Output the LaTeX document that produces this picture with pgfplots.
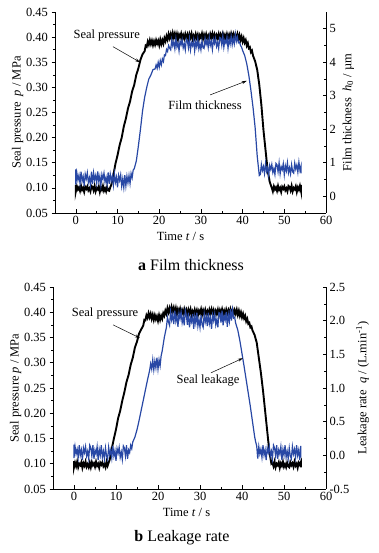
\documentclass[border=0pt]{standalone}
\usepackage{pgfplots}
\pgfplotsset{compat=1.18}
\usepackage{fontspec}
\setmainfont{Liberation Serif}
\usetikzlibrary{arrows.meta}
\definecolor{bl}{RGB}{40,72,165}

\pgfplotsset{
  base/.style={
    scale only axis, anchor=south west,
    xmin=-5, xmax=60, xtick={0,10,20,30,40,50,60}, minor x tick num=1,
    tick align=inside, tick style={black, line width=0.5pt},
    major tick length=3.5pt, minor tick length=2pt,
    axis line style={line width=0.6pt},
    x axis line style={-}, y axis line style={-},
    tick label style={font=\fontsize{12.5}{14}\selectfont},
    label style={font=\fontsize{12.5}{14}\selectfont},
    /pgf/number format/assume math mode=true,
  },
}

\begin{document}
\begin{tikzpicture}
\path[use as bounding box] (0,0) rectangle (379pt,553pt);

% ================= TOP =================
\begin{axis}[base, at={(55pt,340pt)}, width=271pt, height=201pt,
  ymin=0.05, ymax=0.45, ytick={0.05,0.10,0.15,0.20,0.25,0.30,0.35,0.40,0.45},
  minor y tick num=1, axis y line*=left, axis x line*=bottom, ytick align=outside,
  yticklabel style={/pgf/number format/.cd, fixed, fixed zerofill, precision=2},
  xlabel={Time \textit{t} / s}, xlabel style={xshift=-10pt},
  ylabel={Seal pressure~~\textit{p}~/~MPa}, ylabel style={yshift=-4pt}]
\addplot[black, line width=1.9pt] coordinates {
(0,0.106)(0,0.093)(0.25,0.103)(0.5,0.097)(0.75,0.101)(1,0.094)(1.25,0.104)(1.5,0.096)(1.75,0.100)
(2,0.092)(2.25,0.102)(2.5,0.098)(2.75,0.103)(3,0.095)(3.25,0.099)(3.5,0.093)(3.75,0.104)
(4,0.102)(4.25,0.095)(4.5,0.104)(4.75,0.093)(5,0.100)(5.25,0.097)(5.5,0.103)(5.75,0.092)
(6,0.101)(6.25,0.096)(6.5,0.104)(6.75,0.094)(7,0.099)(7.25,0.093)(7.5,0.102)(7.75,0.095)
(8,0.094)(8.25,0.101)(8.5,0.106)(9,0.125)(9.5,0.148)
(10,0.165)(10.5,0.185)(11,0.200)(11.5,0.222)(12,0.238)(12.5,0.258)(13,0.272)(13.5,0.292)(14,0.305)(14.5,0.325)
(15,0.338)(15.5,0.355)(16,0.366)
(16.5,0.372)(16.75,0.383)(17,0.381)(17.25,0.391)(17.5,0.385)(17.75,0.394)(18,0.386)(18.25,0.393)
(18.5,0.384)(18.75,0.392)(19,0.385)(19.25,0.394)(19.5,0.387)(19.75,0.393)(20,0.384)(20.25,0.395)
(20.5,0.386)(20.75,0.394)(21,0.387)(21.25,0.398)(21.5,0.392)(21.75,0.402)(22,0.395)(22.25,0.406)
(22.5,0.398)(22.75,0.406)(23,0.396)(23.25,0.408)(23.5,0.399)(23.75,0.407)(24,0.397)(24.25,0.406)
(24.5,0.395)(24.75,0.405)(25,0.400)(25.25,0.407)(25.5,0.396)(25.75,0.404)(26,0.397)(26.25,0.406)
(26.5,0.398)(26.75,0.405)(27,0.395)(27.25,0.406)(27.5,0.399)(27.75,0.407)(28,0.396)(28.25,0.403)
(28.5,0.397)(28.75,0.406)(29,0.398)(29.25,0.405)(29.5,0.395)(29.75,0.404)(30,0.399)(30.25,0.407)
(30.5,0.396)(30.75,0.405)(31,0.398)(31.25,0.406)(31.5,0.397)(31.75,0.403)(32,0.395)(32.25,0.406)
(32.5,0.399)(32.75,0.407)(33,0.397)(33.25,0.405)(33.5,0.396)(33.75,0.404)(34,0.398)(34.25,0.406)
(34.5,0.395)(34.75,0.405)(35,0.399)(35.25,0.407)(35.5,0.397)(35.75,0.404)(36,0.396)(36.25,0.406)
(36.5,0.398)(36.75,0.405)(37,0.397)(37.25,0.407)(37.5,0.399)(37.75,0.406)(38,0.396)(38.25,0.405)
(38.5,0.398)(38.75,0.406)(39,0.396)(39.25,0.404)(39.5,0.394)(39.75,0.401)(40,0.391)(40.25,0.398)
(40.5,0.389)(40.75,0.394)(41,0.383)(41.25,0.388)(41.5,0.378)(41.75,0.380)(42,0.370)(42.25,0.373)
(42.5,0.363)(43,0.352)(43.5,0.335)(44,0.305)(44.5,0.265)(45,0.215)(45.5,0.175)(46,0.135)(46.5,0.112)(47,0.100)
(47.25,0.093)(47.5,0.103)(47.75,0.097)(48,0.101)(48.25,0.094)(48.5,0.104)(48.75,0.096)(49,0.100)
(49.25,0.092)(49.5,0.102)(49.75,0.098)(50,0.103)(50.25,0.095)(50.5,0.099)(50.75,0.093)(51,0.104)
(51.25,0.102)(51.5,0.095)(51.75,0.104)(52,0.093)(52.25,0.100)(52.5,0.097)(52.75,0.103)(53,0.092)
(53.25,0.101)(53.5,0.096)(53.75,0.104)(54,0.094)(54,0.106)
};
\coordinate (ta1) at (axis cs:8.9,0.381);
\coordinate (ta2) at (axis cs:15.4,0.350);
\coordinate (tb1) at (axis cs:32.2,0.285);
\coordinate (tb2) at (axis cs:41.0,0.313);
\node[font=\fontsize{12.5}{14}\selectfont] at (axis cs:7.4,0.404) {Seal pressure};
\node[font=\fontsize{12.5}{14}\selectfont] at (axis cs:31,0.265) {Film thickness};
\end{axis}

\begin{axis}[base, at={(55pt,340pt)}, width=271pt, height=201pt,
  ymin=-0.5, ymax=5.5, ytick={0,1,2,3,4,5}, minor y tick num=1,
  axis y line*=right, axis x line=none,
  ylabel={Film thickness~~\textit{h}\textsubscript{0}~/~µm}]
\addplot[bl, line width=1.2pt] coordinates {
(0,0.80)(0,0.35)(0.25,0.69)(0.5,0.48)(0.75,0.63)(1,0.38)(1.25,0.73)(1.5,0.45)(1.75,0.59)
(2,0.31)(2.25,0.66)(2.5,0.52)(2.75,0.70)(3,0.41)(3.25,0.55)(3.5,0.34)(3.75,0.73)
(4,0.36)(4.25,0.70)(4.5,0.49)(4.75,0.62)(5,0.39)(5.25,0.74)(5.5,0.44)(5.75,0.60)
(6,0.32)(6.25,0.65)(6.5,0.51)(6.75,0.69)(7,0.42)(7.25,0.56)(7.5,0.35)(7.75,0.71)
(8,0.37)(8.25,0.66)(8.5,0.46)(8.75,0.60)(9,0.33)(9.25,0.68)(9.5,0.42)(9.75,0.57)
(10,0.27)(10.25,0.62)(10.5,0.47)(10.75,0.64)(11,0.30)(11.25,0.52)(11.5,0.26)(11.75,0.63)
(12,0.31)(12.25,0.60)(12.5,0.40)(12.75,0.62)(13,0.38)(13.25,0.68)(13.5,0.55)(13.75,0.78)
(14,0.82)(14.5,1.05)(15,1.50)(15.5,2.00)(16,2.55)(16.5,2.95)(17,3.25)(17.5,3.50)(18,3.62)(18.5,3.78)
(19,3.80)(19.25,3.92)(19.5,3.82)(19.75,4.00)(20,3.85)(20.25,4.05)(20.5,3.92)(20.75,4.10)
(21,4.02)(21.25,4.22)(21.5,4.20)(21.75,4.38)(22,4.32)(22.25,4.50)(22.5,4.42)
(22.75,4.37)(23,4.67)(23.25,4.49)(23.5,4.61)(23.75,4.40)(24,4.70)(24.25,4.46)(24.5,4.58)
(24.75,4.34)(25,4.64)(25.25,4.52)(25.5,4.67)(25.75,4.43)(26,4.55)(26.25,4.37)(26.5,4.70)
(26.75,4.64)(27,4.43)(27.25,4.70)(27.5,4.37)(27.75,4.58)(28,4.49)(28.25,4.67)(28.5,4.34)
(28.75,4.61)(29,4.46)(29.25,4.70)(29.5,4.40)(29.75,4.55)(30,4.37)(30.25,4.64)(30.5,4.43)
(30.75,4.41)(31,4.71)(31.25,4.53)(31.5,4.65)(31.75,4.44)(32,4.74)(32.25,4.50)(32.5,4.62)
(32.75,4.38)(33,4.68)(33.25,4.56)(33.5,4.71)(33.75,4.47)(34,4.59)(34.25,4.41)(34.5,4.74)
(34.75,4.72)(35,4.51)(35.25,4.78)(35.5,4.45)(35.75,4.66)(36,4.57)(36.25,4.75)(36.5,4.42)
(36.75,4.69)(37,4.54)(37.25,4.78)(37.5,4.52)(37.75,4.72)(38,4.55)(38.25,4.84)(38.5,4.62)
(38.75,4.75)(39,4.58)(39.25,4.60)(39.5,4.50)(39.75,4.45)(40,4.35)(40.5,4.20)
(41,3.95)(41.5,3.60)(42,3.15)(42.5,2.65)(43,2.05)(43.5,1.20)(44,0.62)
(44.25,0.65)(44.5,0.95)(44.75,0.77)(45,0.89)(45.25,0.68)(45.5,0.98)(45.75,0.74)(46,0.86)
(46.25,0.62)(46.5,0.92)(46.75,0.80)(47,0.95)(47.25,0.71)(47.5,0.83)(47.75,0.65)(48,0.98)
(48.25,0.94)(48.5,0.73)(48.75,1.00)(49,0.67)(49.25,0.88)(49.5,0.79)(49.75,0.97)(50,0.64)
(50.25,0.91)(50.5,0.76)(50.75,1.00)(51,0.70)(51.25,0.85)(51.5,0.67)(51.75,0.94)(52,0.73)
(52.25,0.69)(52.5,0.99)(52.75,0.81)(53,0.93)(53.25,0.72)(53.5,1.02)(53.75,0.78)(54,0.90)(54,0.68)
};
\end{axis}
\draw[-{Stealth[length=5pt,width=3pt]}, line width=0.5pt] (ta1) -- (ta2);
\draw[-{Stealth[length=5pt,width=3pt]}, line width=0.5pt] (tb1) -- (tb2);
\node at (191pt,288pt) {\fontsize{16}{19}\selectfont\textbf{a} Film thickness};

% ================= BOTTOM =================
\begin{axis}[base, at={(53pt,64pt)}, width=273pt, height=202pt,
  ymin=0.05, ymax=0.45, ytick={0.05,0.10,0.15,0.20,0.25,0.30,0.35,0.40,0.45},
  minor y tick num=1, axis y line*=left, axis x line*=bottom, ytick align=outside,
  yticklabel style={/pgf/number format/.cd, fixed, fixed zerofill, precision=2},
  xlabel={Time \textit{t} / s}, xlabel style={xshift=-3pt},
  ylabel={Seal pressure \textit{p} / MPa}, ylabel style={yshift=-4pt}]
\addplot[black, line width=1.9pt] coordinates {
(0,0.105)(0,0.093)(0.25,0.102)(0.5,0.095)(0.75,0.104)(1,0.093)(1.25,0.100)(1.5,0.097)(1.75,0.103)
(2,0.092)(2.25,0.101)(2.5,0.096)(2.75,0.104)(3,0.094)(3.25,0.099)(3.5,0.093)(3.75,0.102)
(4,0.093)(4.25,0.103)(4.5,0.097)(4.75,0.101)(5,0.094)(5.25,0.104)(5.5,0.096)(5.75,0.100)
(6,0.092)(6.25,0.102)(6.5,0.098)(6.75,0.103)(7,0.095)(7.25,0.099)(7.5,0.093)(7.75,0.104)
(8,0.096)(8.25,0.102)(8.5,0.108)(9,0.130)(9.5,0.150)
(10,0.168)(10.5,0.190)(11,0.205)(11.5,0.225)(12,0.242)(12.5,0.262)(13,0.276)(13.5,0.296)(14,0.310)(14.5,0.330)
(15,0.342)(15.5,0.358)(16,0.366)
(16.5,0.374)(16.75,0.385)(17,0.384)(17.25,0.394)(17.5,0.389)(17.75,0.398)(18,0.390)(18.25,0.397)
(18.5,0.387)(18.75,0.395)(19,0.385)(19.25,0.394)(19.5,0.386)(19.75,0.392)(20,0.383)(20.25,0.394)
(20.5,0.385)(20.75,0.393)(21,0.387)(21.25,0.398)(21.5,0.393)(21.75,0.403)(22,0.397)(22.25,0.408)
(22.5,0.400)(22.75,0.408)(23,0.398)(23.25,0.410)(23.5,0.401)(23.75,0.409)(24,0.399)(24.25,0.408)
(24.5,0.396)(24.75,0.406)(25,0.400)(25.25,0.407)(25.5,0.396)(25.75,0.404)(26,0.397)(26.25,0.406)
(26.5,0.397)(26.75,0.404)(27,0.394)(27.25,0.405)(27.5,0.398)(27.75,0.406)(28,0.395)(28.25,0.402)
(28.5,0.396)(28.75,0.405)(29,0.397)(29.25,0.404)(29.5,0.394)(29.75,0.403)(30,0.398)(30.25,0.406)
(30.5,0.395)(30.75,0.404)(31,0.397)(31.25,0.405)(31.5,0.396)(31.75,0.402)(32,0.394)(32.25,0.405)
(32.5,0.398)(32.75,0.406)(33,0.396)(33.25,0.404)(33.5,0.395)(33.75,0.403)(34,0.397)(34.25,0.405)
(34.5,0.394)(34.75,0.404)(35,0.398)(35.25,0.406)(35.5,0.396)(35.75,0.403)(36,0.395)(36.25,0.405)
(36.5,0.397)(36.75,0.404)(37,0.396)(37.25,0.406)(37.5,0.398)(37.75,0.405)(38,0.395)(38.25,0.404)
(38.5,0.397)(38.75,0.405)(39,0.395)(39.25,0.403)(39.5,0.393)(39.75,0.400)(40,0.390)(40.25,0.397)
(40.5,0.388)(40.75,0.393)(41,0.382)(41.25,0.387)(41.5,0.377)(41.75,0.379)(42,0.370)(42.25,0.372)
(42.5,0.364)(43,0.355)(43.5,0.340)(44,0.310)(44.5,0.280)(45,0.245)(45.5,0.205)(46,0.165)(46.5,0.125)(47,0.100)
(47.25,0.102)(47.5,0.095)(47.75,0.104)(48,0.093)(48.25,0.100)(48.5,0.097)(48.75,0.103)(49,0.092)
(49.25,0.101)(49.5,0.096)(49.75,0.104)(50,0.094)(50.25,0.099)(50.5,0.093)(50.75,0.102)(51,0.095)
(51.25,0.093)(51.5,0.103)(51.75,0.097)(52,0.101)(52.25,0.094)(52.5,0.104)(52.75,0.096)(53,0.100)
(53.25,0.092)(53.5,0.102)(53.75,0.098)(54,0.103)(54,0.093)
};
\coordinate (ba1) at (axis cs:9.3,0.375);
\coordinate (ba2) at (axis cs:15.7,0.349);
\coordinate (bb1) at (axis cs:32.6,0.280);
\coordinate (bb2) at (axis cs:40.2,0.309);
\node[font=\fontsize{12.5}{14}\selectfont] at (axis cs:7.4,0.397) {Seal pressure};
\node[font=\fontsize{12.5}{14}\selectfont] at (axis cs:31.9,0.264) {Seal leakage};
\end{axis}

\begin{axis}[base, at={(53pt,64pt)}, width=273pt, height=202pt,
  ymin=-0.5, ymax=2.5, ytick={-0.5,0,0.5,1,1.5,2,2.5}, minor y tick num=1,
  axis y line*=right, axis x line=none,
  yticklabel style={/pgf/number format/.cd, fixed, fixed zerofill, precision=1},
  ylabel={Leakage rate~~\textit{q}~/~(L.min\textsuperscript{-1})}]
\addplot[bl, line width=1.2pt] coordinates {
(0,0.16)(0,-0.04)(0.25,0.13)(0.5,0.02)(0.75,0.09)(1,-0.03)(1.25,0.15)(1.5,0.00)(1.75,0.08)
(2,-0.07)(2.25,0.11)(2.5,0.04)(2.75,0.13)(3,-0.01)(3.25,0.06)(3.5,-0.05)(3.75,0.15)
(4,0.11)(4.25,-0.01)(4.5,0.15)(4.75,-0.05)(5,0.08)(5.25,0.02)(5.5,0.13)(5.75,-0.07)
(6,0.09)(6.25,0.00)(6.5,0.15)(6.75,-0.03)(7,0.06)(7.25,-0.05)(7.5,0.11)(7.75,-0.01)
(8,-0.06)(8.25,0.12)(8.5,0.01)(8.75,0.08)(9,-0.04)(9.25,0.14)(9.5,-0.01)(9.75,0.07)
(10,-0.08)(10.25,0.10)(10.5,0.03)(10.75,0.12)(11,-0.03)(11.25,0.05)(11.5,-0.06)(11.75,0.14)
(12,0.11)(12.25,-0.01)(12.5,0.15)(12.75,-0.05)(13,0.08)(13.25,0.04)(13.5,0.15)(13.75,0.10)
(14,0.20)(14.5,0.27)(15,0.38)(15.5,0.52)(16,0.67)(16.5,0.82)(17,0.97)(17.5,1.12)
(18,1.26)(18.25,1.36)(18.5,1.28)(18.75,1.42)(19,1.27)(19.25,1.40)(19.5,1.30)(19.75,1.45)
(20,1.28)(20.25,1.42)(20.5,1.33)(20.75,1.48)(21,1.55)(21.5,1.75)(22,1.90)(22.25,2.05)(22.5,1.98)
(22.75,1.93)(23,2.13)(23.25,2.01)(23.5,2.09)(23.75,1.95)(24,2.15)(24.25,1.99)(24.5,2.07)
(24.75,1.91)(25,2.11)(25.25,2.03)(25.5,2.13)(25.75,1.97)(26,2.05)(26.25,1.93)(26.5,2.15)
(26.75,2.08)(27,1.94)(27.25,2.12)(27.5,1.90)(27.75,2.04)(28,1.98)(28.25,2.10)(28.5,1.88)
(28.75,2.06)(29,1.96)(29.25,2.12)(29.5,1.92)(29.75,2.02)(30,1.90)(30.25,2.08)(30.5,1.94)
(30.75,1.90)(31,2.10)(31.25,1.98)(31.5,2.06)(31.75,1.92)(32,2.12)(32.25,1.96)(32.5,2.04)
(32.75,1.88)(33,2.08)(33.25,2.00)(33.5,2.10)(33.75,1.94)(34,2.02)(34.25,1.90)(34.5,2.12)
(34.75,2.11)(35,1.97)(35.25,2.15)(35.5,1.93)(35.75,2.07)(36,2.01)(36.25,2.13)(36.5,1.91)
(36.75,2.09)(37,1.99)(37.25,2.17)(37.5,2.00)(37.75,2.16)(38,2.04)(38.25,2.05)(38.5,1.96)
(39,1.86)(39.5,1.70)(40,1.51)(40.5,1.32)(41,1.12)(41.5,0.92)(42,0.72)(42.5,0.50)(43,0.28)(43.25,0.20)(43.5,0.14)
(43.75,-0.05)(44,0.13)(44.25,0.02)(44.5,0.09)(44.75,-0.03)(45,0.15)(45.25,0.00)(45.5,0.08)
(45.75,-0.07)(46,0.11)(46.25,0.04)(46.5,0.13)(46.75,-0.01)(47,0.06)(47.25,-0.05)(47.5,0.15)
(47.75,0.11)(48,-0.01)(48.25,0.15)(48.5,-0.05)(48.75,0.08)(49,0.02)(49.25,0.13)(49.5,-0.07)
(49.75,0.09)(50,0.00)(50.25,0.15)(50.5,-0.03)(50.75,0.06)(51,-0.05)(51.25,0.11)(51.5,-0.01)
(51.75,-0.05)(52,0.13)(52.25,0.02)(52.5,0.09)(52.75,-0.03)(53,0.15)(53.25,0.00)(53.5,0.08)
(53.75,-0.07)(54,0.14)(54,-0.03)
};
\end{axis}
\draw[-{Stealth[length=5pt,width=3pt]}, line width=0.5pt] (ba1) -- (ba2);
\draw[-{Stealth[length=5pt,width=3pt]}, line width=0.5pt] (bb1) -- (bb2);
\node at (182pt,15pt) {\fontsize{16}{19}\selectfont\textbf{b} Leakage rate};
\end{tikzpicture}
\end{document}
